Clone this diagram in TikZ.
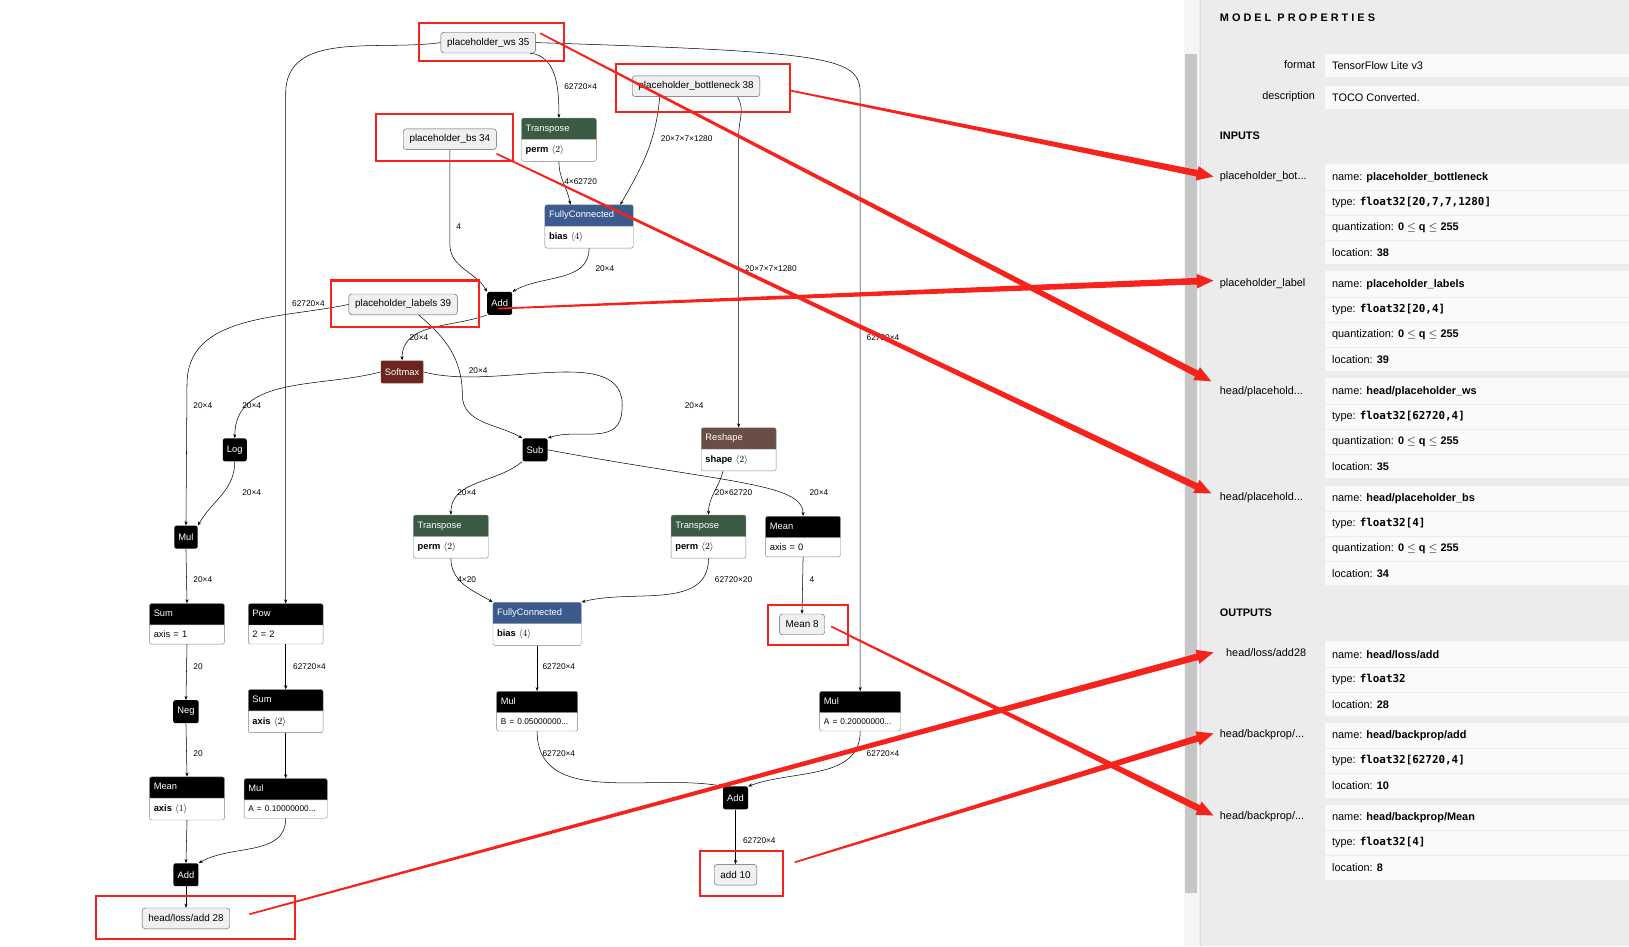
\documentclass[tikz,border=0pt]{standalone}
\usepackage{fontspec}
\setmainfont{Liberation Sans}
\setmonofont{DejaVu Sans Mono}
\usetikzlibrary{shapes.multipart,arrows.meta,calc}
\definecolor{tgreen}{HTML}{3A5A43}
\definecolor{fcblue}{HTML}{3B5A8E}
\definecolor{smbrown}{HTML}{6B271E}
\definecolor{rsbrown}{HTML}{6A4D45}
\definecolor{panel}{HTML}{ECECEC}
\definecolor{rowbg}{HTML}{FAFAFA}
\definecolor{redline}{HTML}{F5231B}
\def\prop#1#2{\node[ptxt] at (1282,#1) {#2};}
\def\blockbg#1#2{\fill[rowbg] (1275,#1) rectangle (1568,#2);}
\def\redarr#1#2{\fill[redline] ($(#1)!0.8pt!90:(#2)$) -- ($($(#2)!16pt!(#1)$)!3.2pt!-90:(#1)$)
  -- ($($(#2)!16pt!(#1)$)!7pt!-90:(#1)$) -- (#2) -- ($($(#2)!16pt!(#1)$)!7pt!90:(#1)$)
  -- ($($(#2)!16pt!(#1)$)!3.2pt!90:(#1)$) -- ($(#1)!0.8pt!-90:(#2)$) -- cycle;}
\begin{document}
\begin{tikzpicture}[x=1pt,y=-1pt,>={Stealth[length=4pt,width=3pt]},
  e/.style={->,line width=0.5pt},
  op/.style={rectangle split,rectangle split parts=2,draw=gray,rounded corners=2pt,
    font=\fontsize{9}{10}\selectfont,align=left,text height=6.5pt,text depth=2pt,
    inner ysep=5.8pt,inner xsep=4pt},
  blk/.style={fill=black,text=white,rounded corners=2pt,font=\fontsize{9}{10}\selectfont,
    minimum height=22,inner xsep=4pt},
  ph/.style={draw=gray!70!black,fill=gray!12,rounded corners=3pt,minimum height=20,
    font=\fontsize{9.5}{10}\selectfont,inner xsep=6pt},
  lbl/.style={font=\fontsize{8}{9}\selectfont,anchor=west,inner sep=1pt},
  hl/.style={draw=redline,line width=2pt},
  ptxt/.style={anchor=west,font=\fontsize{10.5}{12}\selectfont,inner sep=0},
  phead/.style={anchor=west,font=\fontsize{10.5}{12}\selectfont\bfseries,inner sep=0}]
\useasboundingbox (0,0) rectangle (1568,911);
\fill[white] (0,0) rectangle (1140,911);

% graph nodes
\node[ph] (ws) at (470,41) {placeholder\_ws 35};
\node[ph] (bn) at (670,83) {placeholder\_bottleneck 38};
\node[ph] (bs) at (433,134) {placeholder\_bs 34};
\node[ph] (lab) at (388,293) {placeholder\_labels 39};
\node[op,text width=64,rectangle split part fill={tgreen,white}] (tr1) at (538,134.5)
  {\textcolor{white}{Transpose}\nodepart{two}\textbf{perm} $\langle2\rangle$};
\node[op,text width=77,rectangle split part fill={fcblue,white}] (fc1) at (567,218)
  {\textcolor{white}{FullyConnected}\nodepart{two}\textbf{bias} $\langle4\rangle$};
\node[blk] (add1) at (481,292) {Add};
\node[blk,fill=smbrown] (sm) at (387,358) {Softmax};
\node[blk] (log) at (226,433) {Log};
\node[blk] (sub) at (515,433) {Sub};
\node[op,text width=64,rectangle split part fill={rsbrown,white}] (rs) at (711,432.5)
  {\textcolor{white}{Reshape}\nodepart{two}\textbf{shape} $\langle2\rangle$};
\node[op,text width=64,rectangle split part fill={tgreen,white}] (tr2) at (434,516.5)
  {\textcolor{white}{Transpose}\nodepart{two}\textbf{perm} $\langle2\rangle$};
\node[op,text width=64,rectangle split part fill={tgreen,white}] (tr3) at (682,516.5)
  {\textcolor{white}{Transpose}\nodepart{two}\textbf{perm} $\langle2\rangle$};
\node[op,text width=64,rectangle split part fill={black,white}] (mean) at (773,516.5)
  {\textcolor{white}{Mean}\nodepart{two}axis = 0};
\node[blk] (mul1) at (179,517) {Mul};
\node[op,text width=64,rectangle split part fill={black,white}] (sum1) at (180,600.5)
  {\textcolor{white}{Sum}\nodepart{two}axis = 1};
\node[op,text width=64,rectangle split part fill={black,white}] (pow) at (275,600.5)
  {\textcolor{white}{Pow}\nodepart{two}2 = 2};
\node[op,text width=77,rectangle split part fill={fcblue,white}] (fc2) at (517,600.5)
  {\textcolor{white}{FullyConnected}\nodepart{two}\textbf{bias} $\langle4\rangle$};
\node[ph] (m8) at (772,601) {Mean 8};
\node[blk] (neg) at (179,685) {Neg};
\node[op,text width=64,rectangle split part fill={black,white}] (sum2) at (275,684.5)
  {\textcolor{white}{Sum}\nodepart{two}\textbf{axis} $\langle2\rangle$};
\node[op,text width=70,rectangle split part fill={black,white}] (mul2) at (517,684.5)
  {\textcolor{white}{Mul}\nodepart{two}{\fontsize{8}{9}\selectfont B = 0.05000000...}};
\node[op,text width=70,rectangle split part fill={black,white}] (mul3) at (828,684.5)
  {\textcolor{white}{Mul}\nodepart{two}{\fontsize{8}{9}\selectfont A = 0.20000000...}};
\node[op,text width=64,rectangle split part fill={black,white}] (mean2) at (180,768.5)
  {\textcolor{white}{Mean}\nodepart{two}\textbf{axis} $\langle1\rangle$};
\node[op,text width=72,rectangle split part fill={black,white}] (mul4) at (275,768.5)
  {\textcolor{white}{Mul}\nodepart{two}{\fontsize{8}{9}\selectfont A = 0.10000000...}};
\node[blk] (add2) at (708,768) {Add};
\node[blk] (add3) at (179,842) {Add};
\node[ph] (a10) at (708,842) {add 10};
\node[ph] (loss) at (179,884) {head/loss/add 28};

% connectors
\draw[e] ([xshift=40]ws.south) to[out=-5,in=90] (tr1.north);
\draw[e] (ws.east) .. controls (800,50) and (828,55) .. (828,90) -- (mul3.north);
\draw[e] (ws.west) to[out=188,in=90] (275,90) -- (pow.north);
\draw[e] ([xshift=-35]bn.south) to[out=-95,in=60] ([xshift=30]fc1.north);
\draw[e] ([xshift=40]bn.south) to[out=-60,in=90] (711,130) -- (rs.north);
\draw[e] (tr1.south) to[out=-90,in=100] ([xshift=-18]fc1.north);
\draw[e] (bs.south) -- (433,235) to[out=-90,in=120] (add1.north west);
\draw[e] (fc1.south) to[out=-90,in=30] (add1.north east);
\draw[e] (add1.south west) to[out=200,in=90] (sm.north);
\draw[e] (lab.west) to[out=192,in=90] (180,370) -- (mul1.north);
\draw[e] ([xshift=15]lab.south) to[out=-40,in=90] (445,380) to[out=-90,in=150] (sub.north west);
\draw[e] (sm.west) to[out=195,in=90] (log.north);
\draw[e] (sm.east) to[out=-15,in=80] (598,400) to[out=-100,in=20] (sub.north east);
\draw[e] (log.south) to[out=-90,in=60] (mul1.north east);
\draw[e] (sub.south west) to[out=220,in=90] (tr2.north);
\draw[e] (sub.east) .. controls (700,465) and (773,465) .. (mean.north);
\draw[e] ([xshift=-15]rs.south) to[out=-105,in=90] (tr3.north);
\draw[e] (tr2.south) to[out=-90,in=150] (fc2.north west);
\draw[e] (tr3.south) to[out=-90,in=15] (fc2.north east);
\draw[e] (mean.south) -- (m8.north);
\draw[e] (mul1.south) -- (sum1.north);
\draw[e] (sum1.south) -- (neg.north);
\draw[e] (neg.south) -- (mean2.north);
\draw[e] (mean2.south) -- (add3.north);
\draw[e] (pow.south) -- (sum2.north);
\draw[e] (sum2.south) -- (mul4.north);
\draw[e] (mul4.south) to[out=-90,in=30] (add3.north east);
\draw[e] (add3.south) -- (loss.north);
\draw[e] (fc2.south) -- (mul2.north);
\draw[e] (mul2.south) to[out=-90,in=170] (add2.north west);
\draw[e] (mul3.south) to[out=-90,in=20] (add2.north east);
\draw[e] (add2.south) -- (a10.north);

% edge labels
\node[lbl] at (542,83) {62720×4};
\node[lbl] at (635,133) {20×7×7×1280};
\node[lbl] at (542,175) {4×62720};
\node[lbl] at (438,218) {4};
\node[lbl] at (572,259) {20×4};
\node[lbl] at (716,259) {20×7×7×1280};
\node[lbl] at (280,292) {62720×4};
\node[lbl] at (833,325) {62720×4};
\node[lbl] at (393,325) {20×4};
\node[lbl] at (450,357) {20×4};
\node[lbl] at (185,390) {20×4};
\node[lbl] at (232,390) {20×4};
\node[lbl] at (658,390) {20×4};
\node[lbl] at (232,474) {20×4};
\node[lbl] at (439,474) {20×4};
\node[lbl] at (687,474) {20×62720};
\node[lbl] at (778,474) {20×4};
\node[lbl] at (185,558) {20×4};
\node[lbl] at (439,558) {4×20};
\node[lbl] at (687,558) {62720×20};
\node[lbl] at (778,558) {4};
\node[lbl] at (185,642) {20};
\node[lbl] at (281,642) {62720×4};
\node[lbl] at (521,642) {62720×4};
\node[lbl] at (185,725) {20};
\node[lbl] at (521,725) {62720×4};
\node[lbl] at (833,725) {62720×4};
\node[lbl] at (714,809) {62720×4};

% side panel
\fill[panel] (1140,0) rectangle (1568,911);
\fill[gray!8] (1140,0) rectangle (1154,911);
\fill[gray!45] (1141,52) rectangle (1152,860);
\draw[gray!30] (1155,0) -- (1155,911);
\node[phead] at (1174,17) {M O D E L\ \ P R O P E R T I E S};
\node[ptxt,anchor=east] at (1266,62) {format};
\node[ptxt,anchor=east] at (1266,93) {description};
\blockbg{52}{74}
\blockbg{83}{105}
\prop{63}{TensorFlow Lite v3}
\prop{94}{TOCO Converted.}
\node[phead] at (1174,131) {INPUTS};
\blockbg{158}{254}
\blockbg{261}{357}
\blockbg{364}{460}
\blockbg{468}{563}
\node[phead] at (1174,590) {OUTPUTS};
\blockbg{617}{689}
\blockbg{696}{768}
\blockbg{775}{847}
\foreach \y in {183,207,231,286,310,334,389,413,437,492,516,540,642,666,720,744,799,823}
  \draw[panel,line width=0.8pt] (1275,\y) -- (1568,\y);
\node[ptxt] at (1174,170) {placeholder\_bot...};
\node[ptxt] at (1174,273) {placeholder\_label};
\node[ptxt] at (1174,377) {head/placehold...};
\node[ptxt] at (1174,479) {head/placehold...};
\node[ptxt] at (1180,628) {head/loss/add28};
\node[ptxt] at (1174,707) {head/backprop/...};
\node[ptxt] at (1174,786) {head/backprop/...};
\prop{171}{name: \textbf{placeholder\_bottleneck}}
\prop{195}{type: \texttt{\textbf{float32[20,7,7,1280]}}}
\prop{219}{quantization: \textbf{0 $\leq$ q $\leq$ 255}}
\prop{243}{location: \textbf{38}}
\prop{274}{name: \textbf{placeholder\_labels}}
\prop{298}{type: \texttt{\textbf{float32[20,4]}}}
\prop{322}{quantization: \textbf{0 $\leq$ q $\leq$ 255}}
\prop{346}{location: \textbf{39}}
\prop{377}{name: \textbf{head/placeholder\_ws}}
\prop{401}{type: \texttt{\textbf{float32[62720,4]}}}
\prop{425}{quantization: \textbf{0 $\leq$ q $\leq$ 255}}
\prop{449}{location: \textbf{35}}
\prop{480}{name: \textbf{head/placeholder\_bs}}
\prop{504}{type: \texttt{\textbf{float32[4]}}}
\prop{528}{quantization: \textbf{0 $\leq$ q $\leq$ 255}}
\prop{552}{location: \textbf{34}}
\prop{630}{name: \textbf{head/loss/add}}
\prop{654}{type: \texttt{\textbf{float32}}}
\prop{678}{location: \textbf{28}}
\prop{708}{name: \textbf{head/backprop/add}}
\prop{732}{type: \texttt{\textbf{float32[62720,4]}}}
\prop{756}{location: \textbf{10}}
\prop{787}{name: \textbf{head/backprop/Mean}}
\prop{811}{type: \texttt{\textbf{float32[4]}}}
\prop{835}{location: \textbf{8}}

% highlight boxes and arrows
\coordinate (pbn) at (1168,170);
\coordinate (plab) at (1168,270);
\coordinate (pws) at (1166,367);
\coordinate (pbs) at (1166,475);
\coordinate (ploss) at (1168,628);
\coordinate (padd) at (1168,706);
\coordinate (pmean) at (1168,785);
\coordinate (sbn) at (760,87);
\coordinate (slab) at (480,297);
\coordinate (sws) at (520,32);
\coordinate (sbs) at (478,148);
\coordinate (sloss) at (240,880);
\coordinate (sadd) at (765,830);
\coordinate (smean) at (800,603);
\draw[hl] (403,22) rectangle (543,59);
\draw[hl] (593,62) rectangle (760,108);
\draw[hl] (362,110) rectangle (494,155);
\draw[hl] (319,270) rectangle (461,315);
\draw[hl] (739,582) rectangle (816,621);
\draw[hl] (674,819) rectangle (754,862);
\draw[hl] (92,862) rectangle (284,904);
\redarr{sbn}{pbn}
\redarr{slab}{plab}
\redarr{sws}{pws}
\redarr{sbs}{pbs}
\redarr{sloss}{ploss}
\redarr{sadd}{padd}
\redarr{smean}{pmean}
\end{tikzpicture}
\end{document}
